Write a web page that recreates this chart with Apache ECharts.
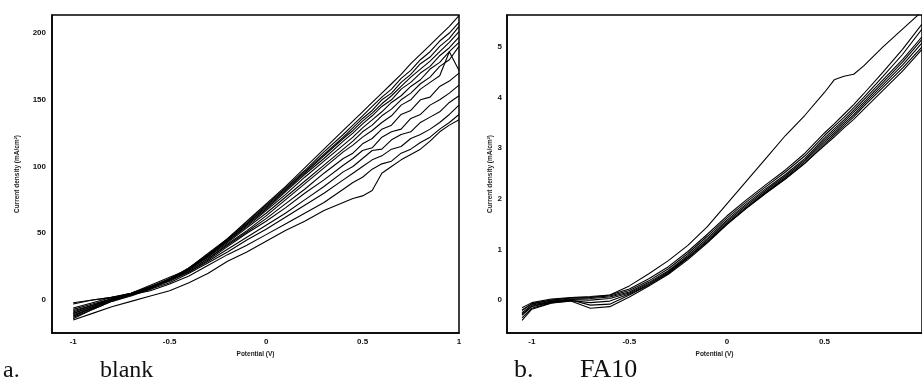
<!DOCTYPE html>
<html>
<head>
<meta charset="utf-8">
<script src="https://cdn.jsdelivr.net/npm/echarts@6/dist/echarts.min.js"></script>
<style>
html,body{margin:0;padding:0;background:#fff;}
#chart{width:922px;height:387px;}
</style>
</head>
<body>
<div id="chart"></div>
<script>
// ---------- Panel a (blank) ----------
const xsBlank = [-1, -0.9, -0.8, -0.7, -0.6, -0.5, -0.4, -0.3, -0.2, -0.1,
  0, 0.1, 0.2, 0.3, 0.4, 0.45, 0.5, 0.55, 0.6, 0.65, 0.7, 0.75, 0.8, 0.85, 0.9, 0.95, 1.0];
const blank1  = [-12,-6,0,4,9,15,24,35,46,59, 72,85,99,113,127,134,141,148,155,162,169,177,184,191,198,205,213];
const blank2  = [-10,-5,1,4,9,15,24,34,46,58, 71,84,97,111,124,131,138,145,152,158,166,172,180,186,194,200,208];
const blank3  = [-14,-7,-1,3,8,15,23,34,45,57, 70,83,96,109,122,129,136,142,150,155,163,169,177,182,190,196,205];
const blank4  = [-8,-4,1,5,10,16,24,34,45,57, 69,82,95,108,121,127,134,140,147,153,160,167,173,179,186,193,201];
const blank5  = [-11,-6,0,4,9,16,23,33,44,56, 68,81,94,106,119,125,132,138,145,150,158,163,170,175,183,189,197];
const blank6  = [-13,-7,-1,4,9,15,23,33,44,55, 67,79,92,104,116,122,129,135,141,148,153,160,165,173,178,186,193];
const blank7  = [-9,-4,1,5,11,17,23,32,43,54, 65,77,89,101,113,119,126,131,138,143,150,155,162,167,175,180,190];
const blank8  = [-6,-2,2,5,10,16,22,31,42,52, 63,75,87,99,111,116,122,127,133,138,146,150,158,163,168,186,172];
const blank9  = [-12,-6,0,4,10,15,22,31,41,51, 61,72,83,95,106,110,117,121,128,131,139,142,150,152,160,164,170];
const blank10 = [-3,0,2,5,10,15,21,30,40,50, 59,69,80,90,101,106,112,114,122,126,128,136,139,146,150,155,161];
const blank11 = [-10,-5,0,4,9,14,21,29,38,47, 56,65,75,85,96,100,106,112,113,120,124,126,133,137,141,148,153];
const blank12 = [-7,-3,1,4,8,13,20,28,36,45, 53,62,71,80,90,95,100,105,108,113,115,121,124,128,133,139,146];
const blank13 = [-2,0,2,4,7,12,18,26,34,41, 49,57,65,73,83,88,92,98,102,104,110,113,118,122,128,133,139];
const blank14 = [-15,-10,-5,-1,3,7,13,20,29,36, 44,52,59,67,73,76,78,82,95,100,105,109,113,119,126,131,135];
const blankSeries = [blank1,blank2,blank3,blank4,blank5,blank6,blank7,blank8,blank9,blank10,blank11,blank12,blank13,blank14];

// ---------- Panel b (FA10) ----------
const xsFA10 = [-1.05, -1.0, -0.9, -0.8, -0.7, -0.6, -0.5, -0.4, -0.3, -0.2, -0.1,
  0, 0.1, 0.2, 0.3, 0.4, 0.5, 0.55, 0.6, 0.65, 0.7, 0.8, 0.9, 1.0];
const fa10Outer = [-0.2,-0.08,0.0,0.04,0.05,0.1,0.28,0.52,0.78,1.08,1.45, 1.9,2.35,2.8,3.25,3.65,4.1,4.35,4.42,4.46,4.62,5.0,5.35,5.7];
const fa10a = [-0.15,-0.05,0.02,0.05,0.07,0.1,0.22,0.42,0.66,0.96,1.3, 1.66,1.98,2.28,2.57,2.9,3.3,3.48,3.67,3.86,4.07,4.5,4.95,5.45];
const fa10b = [-0.2,-0.07,0.0,0.04,0.05,0.08,0.19,0.38,0.62,0.92,1.26, 1.62,1.94,2.24,2.53,2.85,3.25,3.43,3.61,3.8,4.0,4.42,4.85,5.35];
const fa10c = [-0.25,-0.1,-0.02,0.02,0.03,0.06,0.16,0.35,0.58,0.88,1.22, 1.58,1.9,2.2,2.48,2.8,3.2,3.38,3.56,3.75,3.95,4.35,4.75,5.2];
const fa10d = [-0.3,-0.13,-0.04,0.01,0.0,0.03,0.14,0.33,0.56,0.85,1.19, 1.55,1.87,2.17,2.45,2.77,3.16,3.34,3.52,3.71,3.9,4.3,4.7,5.15];
const fa10e = [-0.28,-0.12,-0.03,0.0,-0.1,-0.08,0.1,0.3,0.53,0.83,1.16, 1.52,1.84,2.14,2.42,2.74,3.12,3.3,3.48,3.66,3.86,4.25,4.64,5.08];
const fa10f = [-0.35,-0.16,-0.05,-0.02,-0.16,-0.13,0.06,0.28,0.51,0.8,1.13, 1.49,1.81,2.11,2.39,2.7,3.08,3.26,3.44,3.62,3.82,4.2,4.58,5.0];
const fa10g = [-0.4,-0.18,-0.06,-0.01,-0.05,-0.02,0.12,0.31,0.54,0.83,1.15, 1.5,1.82,2.12,2.4,2.71,3.05,3.22,3.4,3.57,3.76,4.14,4.52,4.95];
const fa10Series = [fa10Outer,fa10a,fa10b,fa10c,fa10d,fa10e,fa10f,fa10g];

// ---------- Tick labels / texts ----------
const xTicks = [-1, -0.5, 0, 0.5, 1];
const yTicksBlank = [0, 50, 100, 150, 200];
const yTicksFA10 = [0, 1, 2, 3, 4, 5];
const xName = 'Potential (V)';
const yName = 'Current density (mA/cm²)';
const captions = [['a.', 'blank'], ['b.', 'FA10']];

const pairs = (xs, ys) => xs.map((x, i) => [x, ys[i]]);

const tickFont = {fontFamily: 'Liberation Sans', fontWeight: 'bold', fontSize: 8, color: '#111'};
const nameFont = {fontFamily: 'Liberation Sans', fontWeight: 'bold', fontSize: 6.5, color: '#222'};
const axisLine = {show: true, onZero: false, lineStyle: {color: '#000', width: 1.5}};

const series = [];
blankSeries.forEach(ys => series.push({
  type: 'line', xAxisIndex: 0, yAxisIndex: 0, showSymbol: false, silent: true,
  lineStyle: {color: '#000', width: 1.1}, data: pairs(xsBlank, ys)
}));
fa10Series.forEach(ys => series.push({
  type: 'line', xAxisIndex: 1, yAxisIndex: 1, showSymbol: false, silent: true,
  lineStyle: {color: '#000', width: 1.1}, data: pairs(xsFA10, ys)
}));

const chart = echarts.init(document.getElementById('chart'), null, {renderer: 'canvas'});
chart.setOption({
  animation: false,
  backgroundColor: '#fff',
  grid: [
    {left: 52, top: 15, width: 407, height: 318, show: true, borderColor: '#000', borderWidth: 1.5},
    {left: 507, top: 15, width: 422, height: 318, show: true, borderColor: '#000', borderWidth: 1.5}
  ],
  xAxis: [
    {gridIndex: 0, type: 'value', min: -1.11, max: 1, splitLine: {show: false},
     axisLine, axisTick: {show: false},
     axisLabel: Object.assign({customValues: xTicks, margin: 5}, tickFont),
     name: xName, nameLocation: 'middle', nameGap: 17, nameTextStyle: nameFont},
    {gridIndex: 1, type: 'value', min: -1.127, max: 1, splitLine: {show: false},
     axisLine, axisTick: {show: false},
     axisLabel: Object.assign({customValues: xTicks.slice(0, 4), margin: 5}, tickFont),
     name: xName, nameLocation: 'middle', nameGap: 17, nameTextStyle: nameFont}
  ],
  yAxis: [
    {gridIndex: 0, type: 'value', min: -24.7, max: 213.5, splitLine: {show: false},
     axisLine, axisTick: {show: false},
     axisLabel: Object.assign({customValues: yTicksBlank, margin: 6}, tickFont),
     name: yName, nameLocation: 'middle', nameGap: 31, nameTextStyle: nameFont},
    {gridIndex: 1, type: 'value', min: -0.65, max: 5.63, splitLine: {show: false},
     axisLine, axisTick: {show: false},
     axisLabel: Object.assign({customValues: yTicksFA10, margin: 5}, tickFont),
     name: yName, nameLocation: 'middle', nameGap: 13, nameTextStyle: nameFont}
  ],
  graphic: [
    {type: 'text', left: 3, top: 359, style: {text: captions[0][0], font: '24px "Liberation Serif"', fill: '#111'}},
    {type: 'text', left: 100, top: 359, style: {text: captions[0][1], font: '24px "Liberation Serif"', fill: '#111'}},
    {type: 'text', left: 514, top: 357, style: {text: captions[1][0], font: '26px "Liberation Serif"', fill: '#111'}},
    {type: 'text', left: 580, top: 357, style: {text: captions[1][1], font: '26px "Liberation Serif"', fill: '#111'}}
  ],
  series
});
</script>
</body>
</html>
